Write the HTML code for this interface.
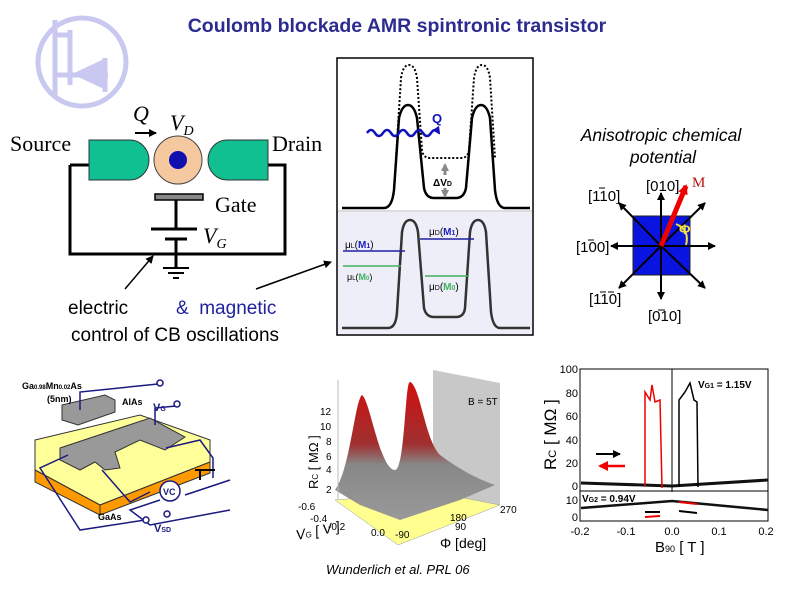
<!DOCTYPE html>
<html><head><meta charset="utf-8"><style>
html,body{margin:0;padding:0;background:#fff;}
svg{display:block;}
</style></head><body>
<svg width="794" height="595" viewBox="0 0 794 595" xmlns="http://www.w3.org/2000/svg" font-family="Liberation Sans, sans-serif">
<defs>
<marker id="ah" markerWidth="8" markerHeight="8" refX="7" refY="4" orient="auto" markerUnits="userSpaceOnUse"><path d="M0,0 L8,4 L0,8 z" fill="#000"/></marker>
<marker id="ahr" markerWidth="10" markerHeight="10" refX="8" refY="5" orient="auto" markerUnits="userSpaceOnUse"><path d="M0,0 L10,5 L0,10 z" fill="#e00"/></marker>
<marker id="ahb" markerWidth="8" markerHeight="8" refX="6" refY="4" orient="auto" markerUnits="userSpaceOnUse"><path d="M0,0 L8,4 L0,8 z" fill="#1010c0"/></marker>
<marker id="ahg" markerWidth="8" markerHeight="8" refX="6" refY="4" orient="auto" markerUnits="userSpaceOnUse"><path d="M0,0 L8,4 L0,8 z" fill="#888"/></marker>
<linearGradient id="pk" x1="0" y1="0" x2="0" y2="1"><stop offset="0" stop-color="#d01010"/><stop offset="0.45" stop-color="#a03030"/><stop offset="0.6" stop-color="#888"/><stop offset="1" stop-color="#999"/></linearGradient>
</defs>

<text x="397" y="32" text-anchor="middle" font-size="19.5" font-weight="bold" fill="#2b2b90">Coulomb blockade AMR spintronic transistor</text>

<!-- transistor logo -->
<g stroke="#c8c8f0" stroke-width="5" fill="none">
<circle cx="82" cy="62" r="44"/>
<line x1="55" y1="20" x2="55" y2="97"/>
<line x1="70" y1="30" x2="70" y2="85"/>
<line x1="55" y1="35" x2="70" y2="35"/>
<line x1="55" y1="75" x2="70" y2="75"/>
<line x1="70" y1="75" x2="108" y2="75"/>
<line x1="105" y1="58" x2="105" y2="92"/>
</g>
<path d="M72,74 L106,58 L106,90 z" fill="#c8c8f0"/>

<!-- CB circuit -->
<text x="10" y="151" font-family="Liberation Serif, serif" font-size="22">Source</text>
<text x="272" y="151" font-family="Liberation Serif, serif" font-size="22">Drain</text>
<path d="M70,165 L70,254 L285,254 L285,165 L268,165" fill="none" stroke="#000" stroke-width="3"/>
<line x1="70" y1="165" x2="89" y2="165" stroke="#000" stroke-width="3"/>
<path d="M89,140 L130,140 A19,20 0 0 1 130,180 L89,180 z" fill="#10c090" stroke="#333" stroke-width="1"/>
<path d="M268,140 L227,140 A19,20 0 0 0 227,180 L268,180 z" fill="#10c090" stroke="#333" stroke-width="1"/>
<circle cx="178" cy="160" r="24" fill="#f5c8a0" stroke="#444" stroke-width="1"/>
<circle cx="178" cy="160" r="9" fill="#1010b0"/>
<text x="133" y="121" font-family="Liberation Serif, serif" font-style="italic" font-size="22">Q</text>
<line x1="135" y1="133" x2="156" y2="133" stroke="#000" stroke-width="2" marker-end="url(#ah)"/>
<text x="170" y="130" font-family="Liberation Serif, serif" font-style="italic" font-size="22">V<tspan font-size="14" dy="5">D</tspan></text>
<rect x="155" y="194" width="48" height="6" fill="#888" stroke="#000" stroke-width="1.5"/>
<line x1="176" y1="200" x2="176" y2="228" stroke="#000" stroke-width="3"/>
<line x1="151" y1="229" x2="197" y2="229" stroke="#000" stroke-width="3"/>
<line x1="165" y1="239" x2="187" y2="239" stroke="#000" stroke-width="3"/>
<line x1="176" y1="239" x2="176" y2="268" stroke="#000" stroke-width="3"/>
<line x1="163" y1="268" x2="189" y2="268" stroke="#000" stroke-width="2"/>
<line x1="168" y1="273" x2="184" y2="273" stroke="#000" stroke-width="2"/>
<line x1="173" y1="278" x2="179" y2="278" stroke="#000" stroke-width="2"/>
<text x="215" y="212" font-family="Liberation Serif, serif" font-size="22">Gate</text>
<text x="203" y="243" font-family="Liberation Serif, serif" font-style="italic" font-size="22">V<tspan font-size="14" dy="5">G</tspan></text>
<line x1="125" y1="289" x2="153" y2="256" stroke="#000" stroke-width="1.5" marker-end="url(#ah)"/>
<line x1="256" y1="289" x2="331" y2="262" stroke="#000" stroke-width="1.5" marker-end="url(#ah)"/>
<text x="68" y="314" font-size="19">electric</text>
<text x="176" y="314" font-size="19" fill="#2020a0">&amp;&#160;&#160;magnetic</text>
<text x="71" y="341" font-size="19">control of CB oscillations</text>

<!-- middle panel -->
<rect x="337" y="58" width="196" height="277" fill="#fff" stroke="#000" stroke-width="1.5"/>
<rect x="338" y="212" width="194" height="122" fill="#eeeef8"/>
<line x1="338" y1="211" x2="532" y2="211" stroke="#bbb" stroke-width="1"/>
<path d="M342,208 L384,208 Q392,208 394,190 L399,118 Q402,105 408,105 Q414,105 417,118 L424,188 Q426,198 434,198 L456,198 Q464,198 466,188 L472,118 Q475,105 481,105 Q487,105 490,118 L495,190 Q497,208 505,208 L530,208" fill="none" stroke="#000" stroke-width="2.5"/>
<path d="M396,158 L401,78 Q403,65 409,65 Q415,65 417,78 L422,150 Q423,158 430,158 L461,158 Q468,158 469,150 L474,78 Q476,65 482,65 Q488,65 490,78 L495,158" fill="none" stroke="#000" stroke-width="2" stroke-dasharray="2,2"/>
<path d="M367,133 q4,-6 8,0 t8,0 t8,0 t8,0 t8,0 t8,0 t8,0 t8,0 t8,0" fill="none" stroke="#1010c0" stroke-width="2.5" marker-end="url(#ahb)"/>
<text x="432" y="123" font-size="13" font-weight="bold" fill="#1010c0">Q</text>
<line x1="445" y1="175" x2="445" y2="165" stroke="#888" stroke-width="3" marker-end="url(#ahg)"/>
<line x1="445" y1="188" x2="445" y2="196" stroke="#888" stroke-width="3" marker-end="url(#ahg)"/>
<text x="433" y="186" font-size="10" font-weight="bold">ΔV<tspan font-size="7">D</tspan></text>
<path d="M342,328 L388,328 Q396,328 397,312 L402,232 Q404,220 410,220 Q416,220 418,232 L424,308 Q426,317 434,317 L456,317 Q464,317 465,308 L470,232 Q472,220 478,220 Q484,220 486,232 L491,312 Q493,328 500,328 L530,328" fill="none" stroke="#333" stroke-width="2.5"/>
<line x1="343" y1="251" x2="405" y2="251" stroke="#2020a0" stroke-width="1.5"/>
<line x1="343" y1="266" x2="401" y2="266" stroke="#40b060" stroke-width="1.5"/>
<line x1="420" y1="239" x2="474" y2="239" stroke="#2020a0" stroke-width="1.5"/>
<line x1="425" y1="276" x2="469" y2="276" stroke="#40b060" stroke-width="1.5"/>
<text x="345" y="248" font-size="10">μ<tspan font-size="7">L</tspan>(<tspan fill="#2020c0" font-weight="bold">M<tspan font-size="7">1</tspan></tspan>)</text>
<text x="347" y="280" font-size="9">μ<tspan font-size="6">L</tspan>(<tspan fill="#40b060" font-weight="bold">M<tspan font-size="6">0</tspan></tspan>)</text>
<text x="429" y="235" font-size="10">μ<tspan font-size="7">D</tspan>(<tspan fill="#2020c0" font-weight="bold">M<tspan font-size="7">1</tspan></tspan>)</text>
<text x="429" y="290" font-size="10">μ<tspan font-size="7">D</tspan>(<tspan fill="#40b060" font-weight="bold">M<tspan font-size="7">0</tspan></tspan>)</text>

<!-- anisotropic -->
<text x="661" y="141" text-anchor="middle" font-size="17.5" font-style="italic">Anisotropic chemical</text>
<text x="663" y="163" text-anchor="middle" font-size="17.5" font-style="italic">potential</text>
<rect x="633" y="216" width="57" height="59" fill="#0a14e0" stroke="#222" stroke-width="1"/>
<g stroke="#000" stroke-width="2">
<line x1="661" y1="246" x2="715" y2="246" marker-end="url(#ah)"/>
<line x1="661" y1="246" x2="611" y2="246" marker-end="url(#ah)"/>
<line x1="661" y1="246" x2="661" y2="193" marker-end="url(#ah)"/>
<line x1="661" y1="246" x2="661" y2="299" marker-end="url(#ah)"/>
<line x1="661" y1="246" x2="705" y2="203" marker-end="url(#ah)"/>
<line x1="661" y1="246" x2="619" y2="203" marker-end="url(#ah)"/>
<line x1="661" y1="246" x2="619" y2="288" marker-end="url(#ah)"/>
<line x1="661" y1="246" x2="705" y2="288" marker-end="url(#ah)"/>
</g>
<line x1="661" y1="246" x2="686" y2="186" stroke="#e00" stroke-width="5" marker-end="url(#ahr)"/>
<path d="M676,224 Q690,230 686,245" fill="none" stroke="#f0e040" stroke-width="2"/>
<text x="679" y="234" font-size="14" fill="#f0e040" font-weight="bold">Φ</text>
<text x="692" y="187" font-family="Liberation Serif, serif" font-size="15" fill="#c01010">M</text>
<text x="646" y="191" font-size="15">[010]</text>
<text x="588" y="201" font-size="15">[110]</text>
<text x="576" y="252" font-size="15">[100]</text>
<text x="589" y="304" font-size="15">[110]</text>
<text x="648" y="321" font-size="15">[010]</text>
<g stroke="#000" stroke-width="1"><line x1="599" y1="188" x2="605" y2="188"/><line x1="588" y1="240" x2="594" y2="240"/><line x1="600" y1="292" x2="606" y2="292"/><line x1="608" y1="292" x2="614" y2="292"/><line x1="658" y1="310" x2="665" y2="310"/></g>

<!-- device image -->
<path d="M35,440 L140,415 L210,440 L210,462 L100,505 L35,470 z" fill="#ffff99" stroke="#333" stroke-width="1"/>
<path d="M35,470 L100,505 L100,515 L35,482 z" fill="#ff9900" stroke="#333" stroke-width="1"/>
<path d="M100,505 L210,462 L210,473 L100,515 z" fill="#ff9900" stroke="#333" stroke-width="1"/>
<path d="M60,448 L150,418 L185,437 L165,450 L140,440 L115,452 L120,468 L105,470 L95,462 L80,470 L60,460 z" fill="#999" stroke="#333" stroke-width="1"/>
<path d="M62,405 L105,395 L115,400 L115,412 L78,425 L62,420 z" fill="#999" stroke="#333" stroke-width="1"/>
<g stroke="#1a1a80" stroke-width="1.5" fill="none">
<path d="M80,410 L80,392 L158,384"/><path d="M155,425 L155,408 L176,406"/><path d="M166,448 L200,440 L213,458 L213,478"/>
<path d="M68,455 L40,468 L80,530 L145,520"/><path d="M102,470 L130,502 L150,492"/><path d="M185,495 L230,480"/>
<path d="M160,500 L130,510 L150,525 L230,510"/>
</g>
<g fill="#fff" stroke="#1a1a80" stroke-width="1.5"><circle cx="160" cy="383" r="3"/><circle cx="177" cy="404" r="3"/><circle cx="146" cy="520" r="3"/><circle cx="167" cy="514" r="3"/></g>
<circle cx="170" cy="491" r="10" fill="#fff" stroke="#1a1a80" stroke-width="1.5"/>
<text x="163" y="495" font-size="9" font-weight="bold" fill="#1a1a80">VC</text>
<text x="22" y="389" font-size="9" font-weight="bold">Ga<tspan font-size="6">0.98</tspan>Mn<tspan font-size="6">0.02</tspan>As</text>
<text x="47" y="402" font-size="9" font-weight="bold">(5nm)</text>
<text x="122" y="405" font-size="9" font-weight="bold">AlAs</text>
<text x="153" y="411" font-size="11" font-weight="bold" fill="#1a1a80">V<tspan font-size="7">G</tspan></text>
<text x="98" y="520" font-size="9" font-weight="bold">GaAs</text>
<text x="154" y="532" font-size="11" font-weight="bold" fill="#1a1a80">V<tspan font-size="7">SD</tspan></text>
<path d="M200,470 L200,480 M195,470 L215,470" stroke="#000" stroke-width="2"/>

<!-- 3D plot -->
<path d="M433,370 L500,383 L500,505 L433,492 z" fill="#c8c8c8"/>
<path d="M335,500 L433,492 L500,505 L398,545 z" fill="#ffff90" stroke="#999" stroke-width="0.5"/>
<path d="M335,490 C350,470 355,400 362,395 C370,400 380,470 395,470 C405,470 405,380 410,382 C420,385 425,440 440,455 C460,470 480,480 495,485 L460,500 L400,520 L360,505 z" fill="url(#pk)"/>
<line x1="338" y1="380" x2="338" y2="500" stroke="#bbb"/>
<text x="320" y="415" font-size="10">12</text><text x="320" y="430" font-size="10">10</text><text x="326" y="445" font-size="10">8</text><text x="326" y="460" font-size="10">6</text><text x="326" y="473" font-size="10">4</text><text x="326" y="493" font-size="10">2</text>
<text x="318" y="497" font-size="13" transform="rotate(-90 318 497)" dx="8">R<tspan font-size="8">C</tspan> [ MΩ ]</text>
<text x="468" y="405" font-size="10">B = 5T</text>
<text x="298" y="510" font-size="10">-0.6</text><text x="310" y="522" font-size="10">-0.4</text><text x="328" y="530" font-size="10">-0.2</text><text x="371" y="536" font-size="10">0.0</text>
<text x="395" y="538" font-size="10">-90</text><text x="450" y="521" font-size="10">180</text><text x="500" y="513" font-size="10">270</text><text x="455" y="530" font-size="10">90</text>
<text x="297" y="540" font-size="14" font-style="italic" transform="rotate(-12 297 540)">V<tspan font-size="8">G</tspan> [ V ]</text>
<text x="440" y="548" font-size="14">Φ [deg]</text>
<text x="326" y="574" font-size="13" font-style="italic">Wunderlich et al. PRL 06</text>

<!-- right plot -->
<rect x="580" y="369" width="188" height="123" fill="#fff" stroke="#000" stroke-width="1"/>
<rect x="580" y="491" width="188" height="30" fill="#fff" stroke="#000" stroke-width="1"/>
<line x1="672" y1="369" x2="672" y2="492" stroke="#000"/>
<path d="M581,483 L672,486 L768,480" stroke="#111" stroke-width="3" fill="none"/>
<path d="M645,486 L645,392 L650,400 L652,385 L655,402 L660,400 L662,488" stroke="#e00" stroke-width="1.5" fill="none"/>
<path d="M679,487 L679,400 L685,392 L690,383 L694,400 L697,402 L698,487" stroke="#000" stroke-width="1.5" fill="none"/>
<path d="M581,508 L672,501 L768,510" stroke="#111" stroke-width="2.5" fill="none"/>
<path d="M645,512 L660,512 M679,511 L697,513" stroke="#000" stroke-width="2" fill="none"/>
<path d="M645,517 L660,516 M679,502 L697,504" stroke="#e00" stroke-width="2" fill="none"/>
<line x1="596" y1="454" x2="620" y2="454" stroke="#000" stroke-width="2" marker-end="url(#ah)"/>
<line x1="625" y1="466" x2="600" y2="466" stroke="#e00" stroke-width="2.5" marker-end="url(#ahr)"/>
<text x="698" y="388" font-size="10" font-weight="bold">V<tspan font-size="7">G1</tspan> = 1.15V</text>
<text x="582" y="502" font-size="10" font-weight="bold">V<tspan font-size="7">G2</tspan> = 0.94V</text>
<g font-size="11" text-anchor="end"><text x="578" y="373">100</text><text x="578" y="397">80</text><text x="578" y="420">60</text><text x="578" y="444">40</text><text x="578" y="467">20</text><text x="578" y="490">0</text><text x="578" y="504">10</text><text x="578" y="521">0</text></g>
<text x="556" y="470" font-size="17" transform="rotate(-90 556 470)">R<tspan font-size="11">C</tspan> [ MΩ ]</text>
<g font-size="11" text-anchor="middle"><text x="580" y="535">-0.2</text><text x="626" y="535">-0.1</text><text x="672" y="535">0.0</text><text x="719" y="535">0.1</text><text x="766" y="535">0.2</text></g>
<text x="655" y="552" font-size="15">B<tspan font-size="9">90</tspan>  [ T ]</text>
</svg>
</body></html>
